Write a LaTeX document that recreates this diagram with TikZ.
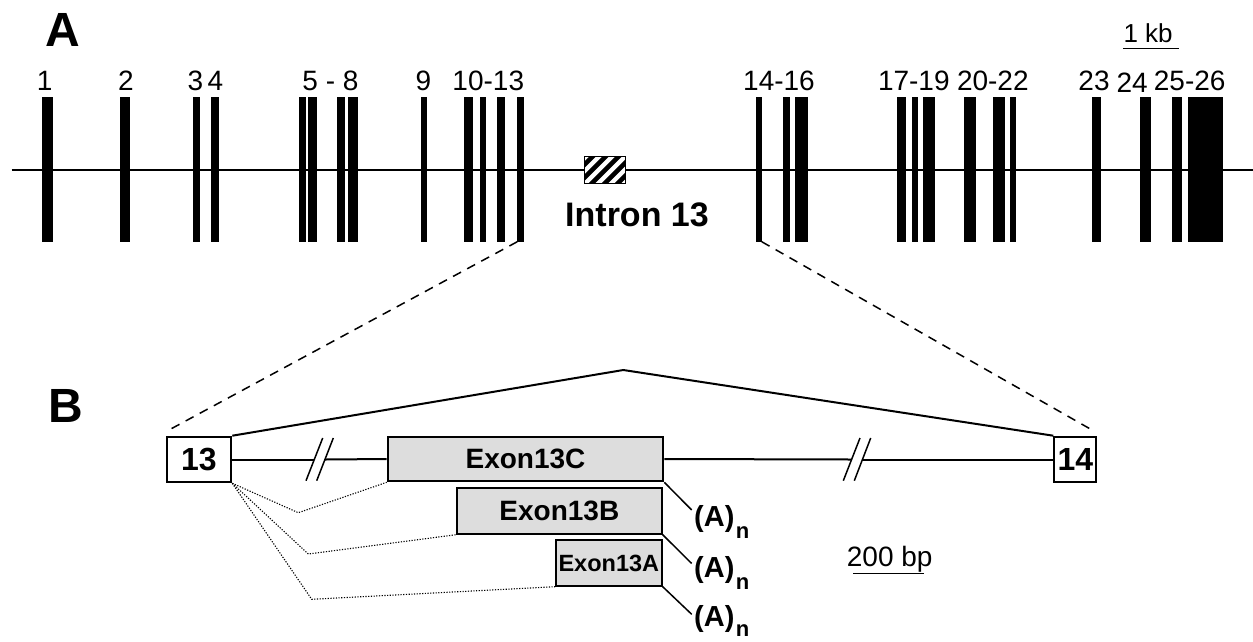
\documentclass[tikz,border=0pt]{standalone}
\usepackage{fontspec}
\setmainfont{Liberation Sans}
\definecolor{exgray}{RGB}{221,221,221}
\begin{document}
\begin{tikzpicture}[x=1pt,y=-1pt,
  exon/.style={rectangle,fill=black,inner sep=0pt,outer sep=0pt,minimum height=145pt},
  lab/.style={font=\fontsize{28}{30}\selectfont,inner sep=0pt,anchor=base},
  bigl/.style={font=\fontsize{48}{50}\selectfont\bfseries,inner sep=0pt,anchor=base west},
  gbox/.style={rectangle,draw=black,line width=2pt,fill=exgray,inner sep=0pt,font=\fontsize{28}{30}\selectfont\bfseries},
  wbox/.style={rectangle,draw=black,line width=2pt,fill=white,inner sep=0pt,font=\fontsize{32}{34}\selectfont\bfseries},
  anl/.style={anchor=base west,inner sep=0pt,font=\fontsize{29}{30}\selectfont\bfseries},
  gene/.style={line width=2pt},
  zoomline/.style={line width=1.5pt,dash pattern=on 9pt off 7pt},
  splice/.style={line width=1.1pt,dash pattern=on 1.2pt off 1.5pt},
  polya/.style={line width=1.5pt},
  brk/.style={line width=1.5pt}]
\useasboundingbox (0,0) rectangle (1253,641);

% ---------- A: gene ----------
\coordinate (ls) at (11.7,170);
\coordinate (le) at (1253,170);
\draw[gene] (ls) -- (le);

\foreach \i/\a/\b in {1/42.3/53.3,2/120.3/130,3/192.7/199.7,4/211.3/219.3,
  5/299.3/306,6/308.3/317.3,7/337.3/345.3,8/348.3/358.3,9/421/427.3,
  10/463.7/473.3,11/480/486.3,12/497/505.3,13/517.3/523.7,
  14/755.7/761.7,15/782.7/790.3,16/795.3/808,17/897/906.3,18/912.3/917.7,
  19/923/935,20/963.7/975.7,21/993.3/1004.7,22/1010/1015.7,
  23/1091.7/1100.7,24/1140/1151,25/1172/1182.3,26/1188/1223}{
  \pgfmathsetmacro\w{\b-\a}
  \pgfmathsetmacro\c{(\a+\b)/2}
  \node[exon,minimum width=\w pt] (e\i) at (\c,169.2) {};
}

\foreach \n/\t/\x/\y in {l1/1/44.7/90.5,l2/2/125.8/90.5,l3/3/195.5/90.5,l4/4/215.3/90.5,
  l5/5 - 8/330.5/90.5,l9/9/423.3/90.5,l10/10-13/488.3/90.5,l14/14-16/779/90.5,
  l17/17-19/913.8/90.5,l20/20-22/992.8/90.5,l23/23/1094/90.5,l24/24/1132.2/92.7,
  l25/25-26/1189.7/90.5}{
  \node[lab] (\n) at (\x,\y) {\t};
}

\node[bigl] (labA) at (45,46.7) {A};

\node[font=\fontsize{26}{28}\selectfont,anchor=base west,inner sep=0pt] (kb) at (1123.3,42.7) {1 kb};
\draw[line width=1.5pt] ([yshift=-6pt]kb.base west) -- ++(56,0);

% hatched intron box
\node[rectangle,fill=white,inner sep=0pt,minimum width=40.5pt,minimum height=26.5pt] (hb) at (605,170) {};
\begin{scope}
  \clip (hb.south west) rectangle (hb.north east);
  \foreach \k in {-52,-39,...,52}{
    \draw[line width=4.6pt] (585+\k,190) -- (625+\k,150);
  }
\end{scope}
\draw[line width=1.5pt] (hb.south west) rectangle (hb.north east);
\node[font=\fontsize{34}{36}\selectfont\bfseries,anchor=base west,inner sep=0pt] (intr) at (565,226.7) {Intron 13};

% ---------- B ----------
\node[bigl] (labB) at (48.3,422.3) {B};

\node[wbox,minimum width=64.6pt,minimum height=45.6pt] (b13) at (199,459.5) {13};
\node[wbox,minimum width=42pt,minimum height=45.6pt] (b14) at (1075.3,459.5) {14};
\node[gbox,minimum width=275.6pt,minimum height=44.6pt] (x13C) at (525.5,459) {Exon13C};
\node[gbox,minimum width=204.7pt,minimum height=45.4pt] (x13B) at (559.35,511) {Exon13B};
\node[gbox,font=\fontsize{23.5}{25}\selectfont\bfseries,minimum width=105.7pt,minimum height=45.4pt] (x13A) at (608.85,563) {Exon13A};

% zoom lines from A to B
\draw[zoomline] (e13.south west) -- ([xshift=1pt,yshift=4.5pt]b13.north west);
\draw[zoomline] (e14.south east) -- ([xshift=-4pt,yshift=5pt]b14.north east);

% constitutive splice
\coordinate (apex) at (623.3,370);
\draw[gene] (b13.north east) -- (apex) -- (b14.north west);

% intron line with breaks
\coordinate (g1a) at (314.3,459.5);
\coordinate (g1b) at (325,459.5);
\coordinate (g2a) at (851.7,459.5);
\coordinate (g2b) at (862.5,459.5);
\draw[gene] (b13.east) -- (g1a);
\draw[gene] (g1b) -- (x13C.west);
\draw[gene] (x13C.east) -- (g2a);
\draw[gene] (g2b) -- (b14.west);
\draw[brk] (306,480.7) -- (322.7,438);
\draw[brk] (316.7,480.7) -- (333.3,438);
\draw[brk] (843.3,480.7) -- (860,438);
\draw[brk] (854.3,480.7) -- (870.7,438);

% alternative splicing (dotted)
\coordinate (d1) at (298.3,512.7);
\coordinate (d2) at (308.3,554);
\coordinate (d3) at (311.7,599.3);
\draw[splice] (b13.south east) -- (d1) -- (x13C.south west);
\draw[splice] (b13.south east) -- (d2) -- (x13B.south west);
\draw[splice] (b13.south east) -- (d3) -- (x13A.south west);

% poly(A)
\node[anl] (an1) at (694,526.7) {(A)\hspace{1.5pt}\raisebox{-11.5pt}{\fontsize{22}{22}\selectfont n}};
\node[anl] (an2) at (694,577.5) {(A)\hspace{1.5pt}\raisebox{-11.5pt}{\fontsize{22}{22}\selectfont n}};
\node[anl] (an3) at (694,626.3) {(A)\hspace{1.5pt}\raisebox{-10.5pt}{\fontsize{22}{22}\selectfont n}};
\draw[polya] (x13C.south east) -- ([xshift=-2.3pt,yshift=16.7pt]an1.base west);
\draw[polya] (x13B.south east) -- ([xshift=-2.3pt,yshift=14pt]an2.base west);
\draw[polya] (x13A.south east) -- ([xshift=-2.3pt,yshift=12pt]an3.base west);

% scale bar
\node[font=\fontsize{28}{30}\selectfont,anchor=base west,inner sep=0pt] (bp) at (846.7,566.7) {200 bp};
\draw[line width=1.5pt] ([xshift=6.6pt,yshift=-6.6pt]bp.base west) -- ++(70.7,0);
\end{tikzpicture}
\end{document}
